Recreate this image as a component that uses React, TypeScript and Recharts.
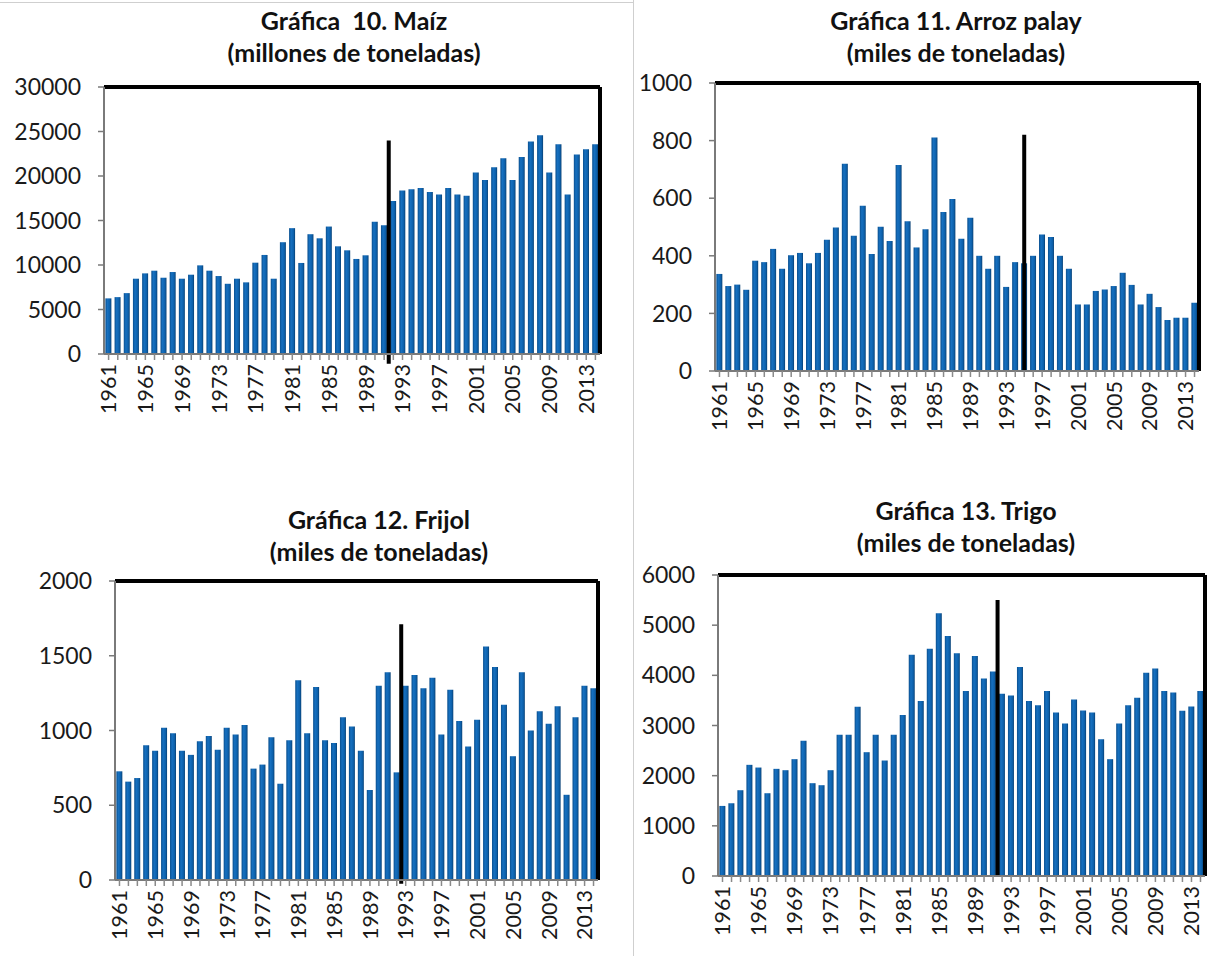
import { BarChart, Bar, XAxis, YAxis, ReferenceLine } from "recharts";

const years = Array.from({ length: 54 }, (_, i) => String(1961 + i));
const yearLabels = ["1961", "1965", "1969", "1973", "1977", "1981", "1985", "1989", "1993", "1997", "2001", "2005", "2009", "2013"];

const maiz = [
  6250, 6390, 6840, 8460, 9060, 9360, 8570, 9210, 8460, 8910,
  9960, 9360, 8760, 7890, 8460, 8050, 10260, 11130, 8460, 12560,
  14140, 10230, 13460, 13000, 14320, 12100, 11650, 10680, 11090, 14850,
  14470, 17180, 18380, 18500, 18650, 18200, 17930, 18650, 17930, 17780,
  20380, 19550, 20980, 21990, 19550, 22140, 23870, 24590, 20380, 23570,
  17930, 22410, 23010, 23570,
];
const arroz = [
  337, 295, 300, 282, 383, 378, 424, 355, 402, 410,
  374, 410, 456, 498, 720, 470, 574, 406, 501, 451,
  715, 520, 429, 492, 811, 552, 597, 459, 532, 400,
  355, 400, 292, 378, 374, 400, 474, 465, 400, 355,
  231, 231, 278, 283, 295, 341, 299, 231, 268, 222,
  177, 185, 185, 237,
];
const frijol = [
  727, 658, 682, 902, 864, 1018, 982, 864, 837, 928,
  964, 872, 1018, 973, 1036, 745, 772, 955, 644, 935,
  1336, 982, 1291, 935, 917, 1089, 1027, 864, 602, 1300,
  1389, 720, 1300, 1371, 1282, 1353, 973, 1273, 1063, 893,
  1072, 1562, 1425, 1172, 828, 1389, 1000, 1128, 1045, 1163,
  570, 1089, 1300, 1282,
];
const trigo = [
  1397, 1450, 1710, 2216, 2162, 1650, 2136, 2109, 2329, 2695,
  1850, 1810, 2109, 2814, 2814, 3373, 2468, 2814, 2302, 2814,
  3207, 4411, 3486, 4531, 5236, 4784, 4438, 3686, 4385, 3939,
  4078, 3633, 3599, 4165, 3486, 3406, 3686, 3260, 3041, 3520,
  3300, 3260, 2728, 2329, 3041, 3406, 3553, 4052, 4138, 3686,
  3659, 3293, 3380, 3686,
];

const maizTicks = [0, 5000, 10000, 15000, 20000, 25000, 30000];
const arrozTicks = [0, 200, 400, 600, 800, 1000];
const frijolTicks = [0, 500, 1000, 1500, 2000];
const trigoTicks = [0, 1000, 2000, 3000, 4000, 5000, 6000];

const FONT = "Lato, 'Open Sans', sans-serif";
const AXIS_W = 100;
const X_H = 70;
const TOP_PAD = 18;

const XTick = (props: any) => {
  const { x, y, payload } = props;
  if (!yearLabels.includes(payload.value)) return null;
  return (
    <text
      transform={`translate(${x},${y}) rotate(-90)`}
      textAnchor="end"
      dy="0.36em"
      fontSize={21.5}
      fontFamily={FONT}
      fill="#1a1a1a"
    >
      {payload.value}
    </text>
  );
};

type PanelProps = {
  id: string;
  values: number[];
  ticks: number[];
  box: { left: number; top: number; right: number; bottom: number };
  split: { year: string; pos: "start" | "middle"; from: number; to: number };
};

const Panel = ({ id, values, ticks, box, split }: PanelProps) => {
  const data = years.map((year, i) => ({ year, v: values[i] }));
  const max = ticks[ticks.length - 1];
  const w = box.right - box.left + AXIS_W + 6;
  const h = box.bottom - box.top + TOP_PAD + X_H;
  return (
    <div style={{ position: "absolute", left: box.left - AXIS_W, top: box.top - TOP_PAD }}>
      <BarChart width={w} height={h} data={data} margin={{ top: TOP_PAD, right: 6, left: 0, bottom: 0 }} barCategoryGap="15%">
        <defs>
          <linearGradient id={`g-${id}`} x1="0" y1="0" x2="1" y2="0">
            <stop offset="0%" stopColor="#0a4f8e" />
            <stop offset="35%" stopColor="#1670c0" />
            <stop offset="75%" stopColor="#0d60aa" />
            <stop offset="100%" stopColor="#073f73" />
          </linearGradient>
        </defs>
        <XAxis
          dataKey="year"
          interval={0}
          height={X_H}
          tick={<XTick />}
          tickSize={6}
          tickMargin={4}
          tickLine={{ stroke: "#8a8a8a", strokeWidth: 1.5 }}
          axisLine={{ stroke: "#7a7a7a", strokeWidth: 2 }}
        />
        <YAxis
          width={AXIS_W}
          domain={[0, max]}
          ticks={ticks}
          allowDataOverflow
          tickSize={6}
          tickMargin={17}
          tick={{ fontSize: 23, fontFamily: FONT, fill: "#1a1a1a" }}
          tickLine={{ stroke: "#7a7a7a", strokeWidth: 1.5 }}
          axisLine={{ stroke: "#7a7a7a", strokeWidth: 2 }}
        />
        <Bar dataKey="v" fill={`url(#g-${id})`} isAnimationActive={false} />
        <ReferenceLine y={max} stroke="#000" strokeWidth={4} />
        <ReferenceLine x={years[years.length - 1]} position="end" stroke="#000" strokeWidth={4} />
        <ReferenceLine
          segment={[
            { x: split.year, y: split.from },
            { x: split.year, y: split.to },
          ]}
          position={split.pos}
          ifOverflow="visible"
          stroke="#000"
          strokeWidth={4}
        />
      </BarChart>
    </div>
  );
};

const Title = ({ cx, y, lines }: { cx: number; y: number; lines: string[] }) => (
  <div
    style={{
      position: "absolute",
      left: cx - 200,
      top: y - 16,
      width: 400,
      textAlign: "center",
      fontFamily: FONT,
      fontWeight: 700,
      fontSize: 25,
      lineHeight: "32px",
      color: "#111",
    }}
  >
    {lines.map((l) => (
      <div key={l} style={{ whiteSpace: "pre" }}>{l}</div>
    ))}
  </div>
);

export default function App() {
  return (
    <div style={{ position: "absolute", left: 0, top: 0, width: 1208, height: 956, overflow: "hidden", background: "#fff" }}>
      <div style={{ position: "absolute", left: 0, top: 2, width: 633, height: 1, background: "#cfcfcf" }} />
      <div style={{ position: "absolute", left: 633, top: 0, width: 1, height: 956, background: "#cfcfcf" }} />

      <Title cx={354} y={20} lines={["Gráfica  10. Maíz", "(millones de toneladas)"]} />
      <Title cx={956} y={20} lines={["Gráfica 11. Arroz palay", "(miles de toneladas)"]} />
      <Title cx={379} y={519} lines={["Gráfica 12. Frijol", "(miles de toneladas)"]} />
      <Title cx={966} y={510} lines={["Gráfica 13. Trigo", "(miles de toneladas)"]} />

      <Panel
        id="maiz"
        values={maiz}
        ticks={maizTicks}
        box={{ left: 104, top: 87, right: 600, bottom: 354 }}
        split={{ year: "1992", pos: "start", from: -1100, to: 24000 }}
      />
      <Panel
        id="arroz"
        values={arroz}
        ticks={arrozTicks}
        box={{ left: 715, top: 83, right: 1199, bottom: 371 }}
        split={{ year: "1995", pos: "middle", from: 0, to: 820 }}
      />
      <Panel
        id="frijol"
        values={frijol}
        ticks={frijolTicks}
        box={{ left: 115, top: 581, right: 598, bottom: 880 }}
        split={{ year: "1993", pos: "start", from: -25, to: 1710 }}
      />
      <Panel
        id="trigo"
        values={trigo}
        ticks={trigoTicks}
        box={{ left: 718, top: 575, right: 1205, bottom: 876 }}
        split={{ year: "1992", pos: "start", from: 0, to: 5500 }}
      />
    </div>
  );
}
